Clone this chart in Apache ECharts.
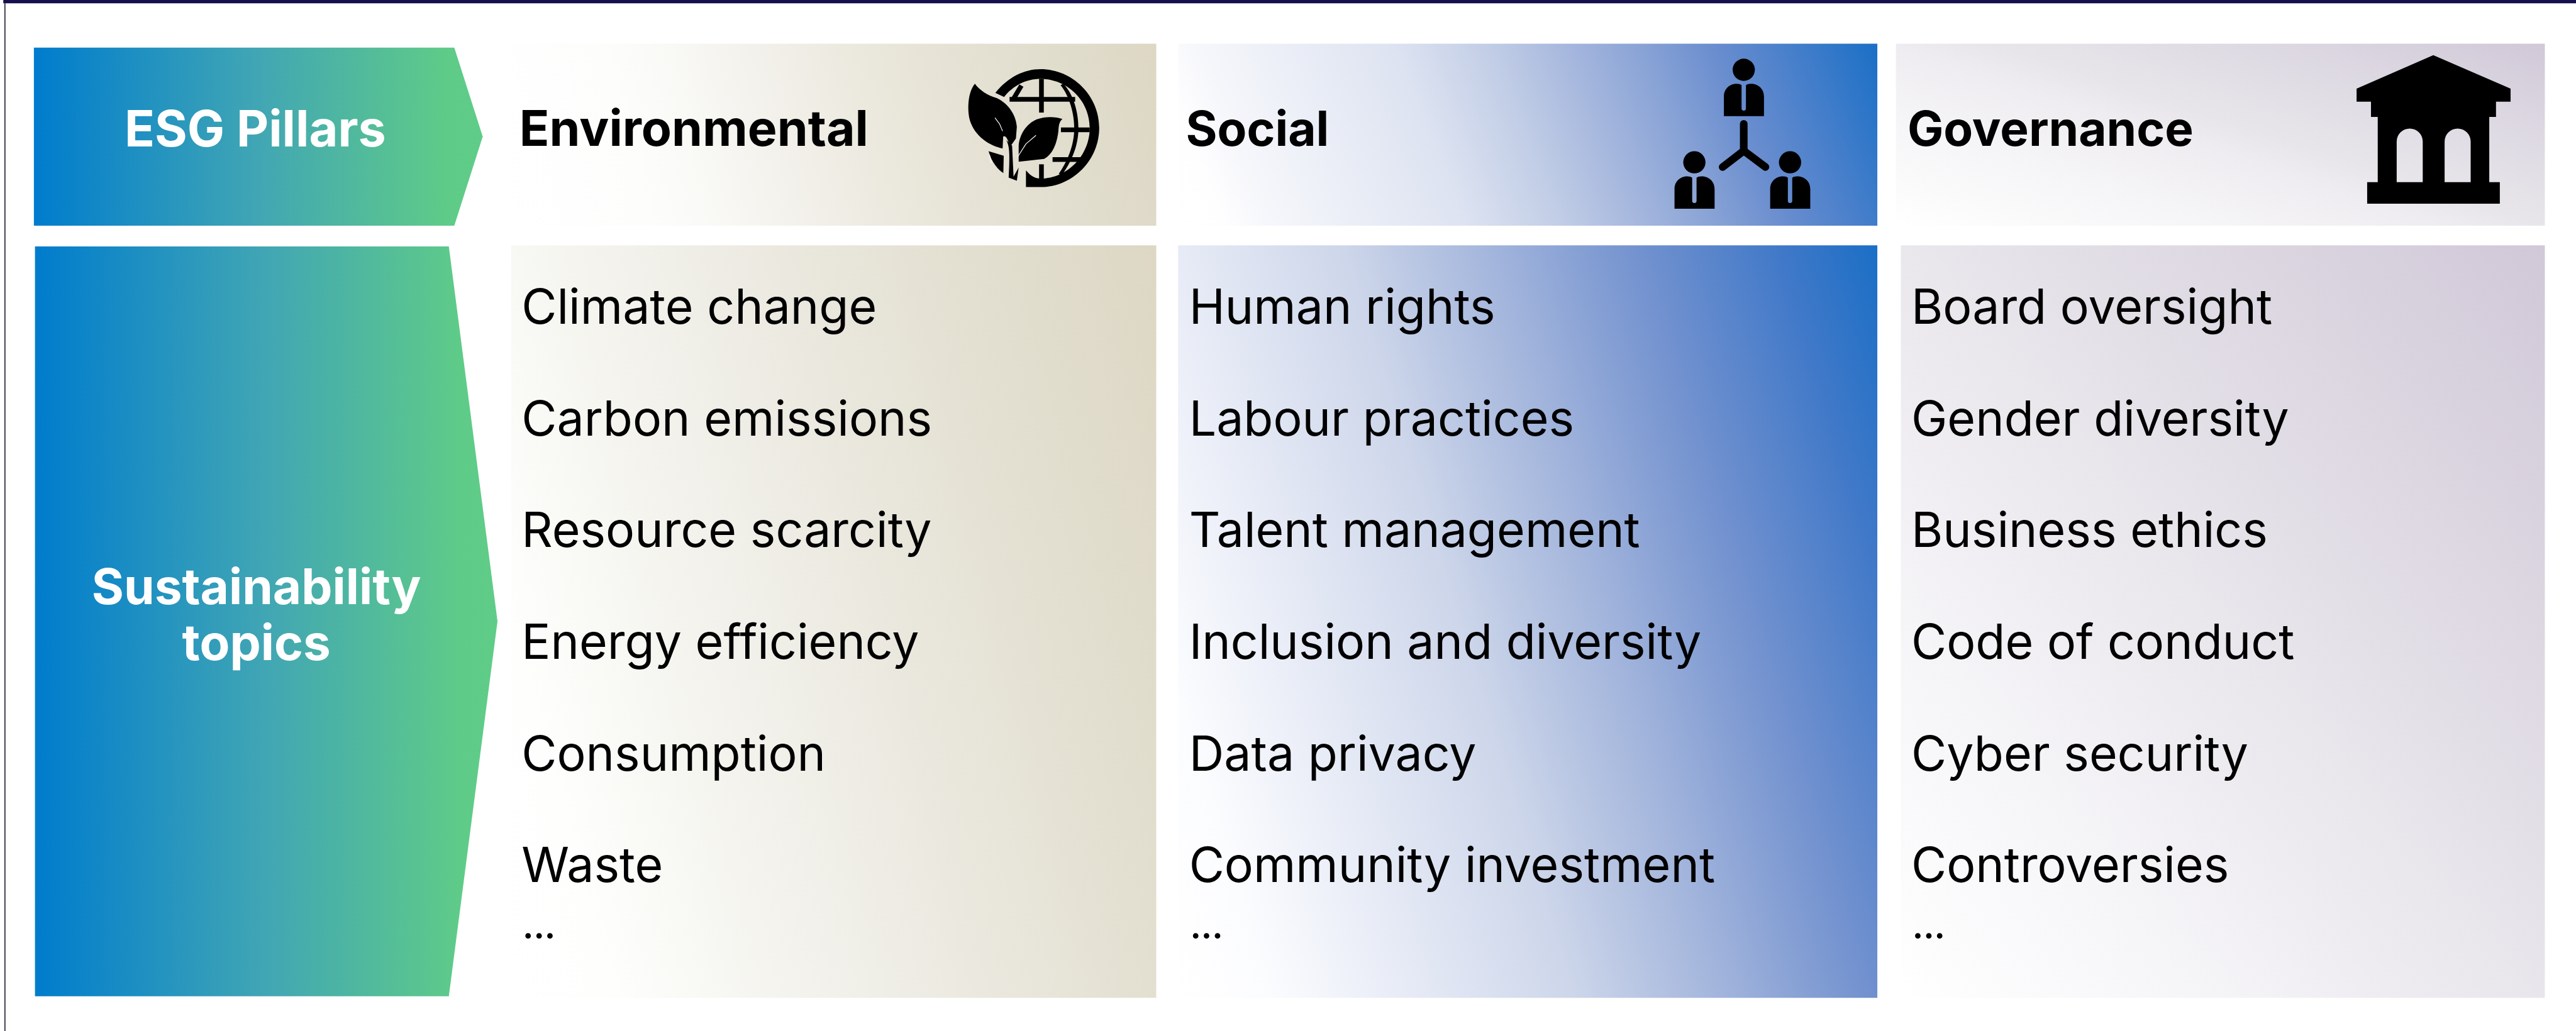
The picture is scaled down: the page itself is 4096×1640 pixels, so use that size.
<!DOCTYPE html>
<html lang="en" style="height: 100%">
<head>
  <meta charset="utf-8">
  <style>body { height: 100%; margin: 0; background: #fff; } #container { width: 100%; height: 100%; }</style>
</head>
<body>
  <div id="container"></div>
  <script src="https://cdn.jsdelivr.net/npm/echarts@6/dist/echarts.min.js"></script>
  <script>
    // diagram content
    var rowTitles = ['ESG Pillars', 'Sustainability\ntopics'];
    var pillars = ['Environmental', 'Social', 'Governance'];
    var environmentalTopics = ['Climate change', 'Carbon emissions', 'Resource scarcity', 'Energy efficiency', 'Consumption', 'Waste'];
    var socialTopics = ['Human rights', 'Labour practices', 'Talent management', 'Inclusion and diversity', 'Data privacy', 'Community investment'];
    var governanceTopics = ['Board oversight', 'Gender diversity', 'Business ethics', 'Code of conduct', 'Cyber security', 'Controversies'];
    var moreMark = '...';

    var S = 4096 / 4712;  // everything below is in reference pixels
    var FONT = 'Inter, "Noto Sans", sans-serif';

    // gradient running at a real angle across a box, white end at bottom left
    function tilted(w, h, deg, stops) {
      var r = deg * Math.PI / 180;
      var L = w * Math.cos(r) + h * Math.sin(r);
      return {
        type: 'linear', x: 0, y: 1,
        x2: L * Math.cos(r) / w,
        y2: 1 - L * Math.sin(r) / h,
        colorStops: stops.map(function (s) { return { offset: s[0], color: s[1] }; })
      };
    }

    var arrowFill = {
      type: 'linear', x: 0, y: 0, x2: 1, y2: 0,
      colorStops: [{ offset: 0, color: '#007ccd' }, { offset: 0.5, color: '#41a6b4' }, { offset: 0.92, color: '#5fcb88' }, { offset: 1, color: '#5fcc88' }]
    };

    var columns = [
      {
        head: { x: 935, w: 1180, textX: 950, size: 90.5, deg: 15 }, body: { x: 935, w: 1180, textX: 954, deg: 15 }, topics: environmentalTopics,
        headStops: [[0, '#ffffff'], [0.2, '#fdfdfc'], [0.294, '#f9f9f6'], [0.45, '#f1efe8'], [0.608, '#e9e6da'], [0.797, '#e2dfd0'], [1, '#ddd7c4']],
        bodyStops: [[0, '#ffffff'], [0.12, '#fefefd'], [0.238, '#f8f8f4'], [0.421, '#f0efe8'], [0.627, '#e8e5da'], [0.782, '#e2dfd0'], [1, '#ddd7c4']]
      },
      {
        head: { x: 2155, w: 1279, textX: 2169, size: 88, deg: 22 }, body: { x: 2155, w: 1279, textX: 2175, deg: 17 }, topics: socialTopics,
        headStops: [[0, '#ffffff'], [0.06, '#fefeff'], [0.119, '#f6f7fb'], [0.372, '#dde3f1'], [0.498, '#c1cde6'], [0.593, '#a7b8de'], [0.688, '#8aa4d6'], [0.783, '#6b8ecf'], [0.877, '#4a80cb'], [1, '#1a6fc6']],
        bodyStops: [[0, '#ffffff'], [0.1, '#fbfcfe'], [0.247, '#e7ebf6'], [0.425, '#cdd6ea'], [0.583, '#a3b5dc'], [0.74, '#7392cf'], [0.898, '#3f78c8'], [1, '#1a6fc6']]
      },
      {
        head: { x: 3468, w: 1187, textX: 3489, size: 88, deg: 72 }, body: { x: 3477, w: 1178, textX: 3496, deg: 39 }, topics: governanceTopics,
        headStops: [[0, '#ffffff'], [0.28, '#f5f4f6'], [0.46, '#eeecf0'], [0.54, '#e8e5ea'], [0.745, '#dedae3'], [1, '#d1c8d8']],
        bodyStops: [[0, '#ffffff'], [0.25, '#f5f4f7'], [0.5, '#e9e6ec'], [0.75, '#dcd7e1'], [1, '#d1c8d8']]
      }
    ];

    var HEAD_Y = 80, HEAD_H = 333, BODY_Y = 449, BODY_H = 1377;
    var ROW_Y = 566, ROW_STEP = 204.3, MORE_Y = 1700;

    function label(text, x, y, size, weight, fill, align) {
      return {
        type: 'text', x: x, y: y, silent: true,
        style: { text: text, fill: fill, fontFamily: FONT, fontSize: size, fontWeight: weight, align: align || 'left', verticalAlign: 'middle', lineHeight: 102 }
      };
    }

    // the graphic component has no plain path element, so each outline gets its own shape
    var shapeCount = 0;
    function pathEl(d, style) {
      var name = 'iconShape' + (shapeCount++);
      echarts.graphic.registerShape(name, echarts.graphic.extendPath(d));
      return { type: name, style: style };
    }

    var BLACK = { fill: '#000' };

    function seg(points, w, colour) {
      return { type: 'polyline', shape: { points: points }, style: { fill: null, stroke: colour || '#000', lineWidth: w, lineCap: 'butt', lineJoin: 'round' } };
    }

    function icon(x, y, children) {
      return { type: 'group', x: x, y: y, scaleX: 1 / 3, scaleY: 1 / 3, silent: true, children: children };
    }

    var personBody = 'M610 428 L610 320 C610 275 645 250 680 250 C693 250 700 253 707 258 L707 385 A12 12 0 0 0 731 385 L731 258 C738 253 745 250 758 250 C795 250 830 275 830 320 L830 428 Z';

    function person(dx, dy) {
      return {
        type: 'group', x: dx, y: dy, children: [
          { type: 'circle', shape: { cx: 719, cy: 173, r: 61 }, style: { fill: '#000' } },
          pathEl(personBody, BLACK)
        ]
      };
    }

    var peopleIcon = icon(2950, 70, [
      person(0, 0), person(-271, 508), person(254, 508),
      { type: 'polyline', shape: { points: [[719, 470], [719, 618]] }, style: { fill: null, stroke: '#000', lineWidth: 42, lineCap: 'round' } },
      { type: 'polyline', shape: { points: [[603, 707], [719, 618], [838, 707]] }, style: { fill: null, stroke: '#000', lineWidth: 42, lineCap: 'round', lineJoin: 'round' } }
    ]);

    var buildingPath = 'M753 93 L1177 277 L1177 348 L1097 348 L1097 432 L1060 432 L1060 790 L1118 790 L1118 908 L390 908 L390 790 L448 790 L448 432 L411 432 L411 348 L332 348 L332 277 Z ' +
      'M552 790 L695 790 L695 567 A71.5 71.5 0 0 0 552 567 Z M815 790 L958 790 L958 567 A71.5 71.5 0 0 0 815 567 Z';
    var buildingIcon = icon(4200, 70, [pathEl(buildingPath, BLACK)]);

    // globe ring is open towards the bottom left, leaves sit over that gap
    var ringPath = 'M512 360 C580 275 670 230 760 230 C935 230 1082 375 1082 552 C1082 730 935 877 760 877 L680 877 L680 785 C705 815 730 830 760 830 C905 830 1030 705 1030 552 C1030 400 905 283 760 283 C680 283 610 320 560 382 Z';
    var leafA = 'M400 310 C425 345 470 375 520 388 C585 420 625 480 630 545 L625 610 L590 660 C585 620 570 590 555 600 L552 665 C480 650 400 600 372 510 C355 440 365 350 400 310 Z';
    var leafB = 'M880 503 C860 520 860 545 858 570 C850 640 825 700 780 722 L640 738 L640 650 C645 590 680 530 740 505 C790 488 840 490 880 503 Z';
    var leafC = 'M475 680 L558 705 L556 800 C530 785 490 740 475 680 Z';
    var stem = 'M572 620 C590 650 590 700 588 760 L585 825 L630 842 L640 770 L612 820 L604 650 L572 620 Z';
    var globeIcon = icon(1650, 50, [
      pathEl(ringPath, BLACK),
      seg([[765, 283], [765, 468]], 26),
      seg([[765, 752], [765, 830]], 26),
      seg([[590, 395], [950, 395]], 26),
      seg([[872, 563], [1030, 563]], 26),
      seg([[826, 726], [1000, 726]], 26),
      pathEl('M870 318 C905 360 945 450 945 555 C945 650 905 740 860 805 L878 810 C925 745 968 655 968 555 C968 445 930 355 885 310 Z', BLACK),
      seg([[655, 320], [612, 392]], 26),
      pathEl(leafA, BLACK),
      pathEl(leafB, BLACK),
      pathEl(leafC, BLACK),
      pathEl(stem, BLACK),
      // white hairlines left in the artwork
      seg([[510, 497], [535, 530], [552, 570]], 4, '#fff'),
      seg([[735, 593], [680, 640], [634, 712]], 4, '#fff'),
      seg([[480, 700], [490, 745]], 4, '#fff')
    ]);

    var children = [];

    // frame edges
    children.push({ type: 'rect', shape: { x: 6, y: 0, width: 4706, height: 6 }, style: { fill: '#160f4d' } });
    children.push({ type: 'rect', shape: { x: 8, y: 6, width: 2, height: 1881 }, style: { fill: '#2a2a3a' } });

    // left hand arrows
    children.push({
      type: 'polygon', shape: { points: [[62, 87], [831, 87], [883, 250], [831, 413], [62, 413]] },
      style: { fill: arrowFill }
    });
    children.push({
      type: 'polygon', shape: { points: [[64, 451], [821, 451], [910, 1137], [821, 1823], [64, 1823]] },
      style: { fill: arrowFill }
    });
    children.push(label(rowTitles[0], 467, 241, 91, 700, '#fff', 'center'));
    children.push(label(rowTitles[1], 469, 1130, 90, 700, '#fff', 'center'));

    columns.forEach(function (col, i) {
      children.push({
        type: 'rect', shape: { x: col.head.x, y: HEAD_Y, width: col.head.w, height: HEAD_H },
        style: { fill: tilted(col.head.w, HEAD_H, col.head.deg, col.headStops) }
      });
      children.push({
        type: 'rect', shape: { x: col.body.x, y: BODY_Y, width: col.body.w, height: BODY_H },
        style: { fill: tilted(col.body.w, BODY_H, col.body.deg, col.bodyStops) }
      });
      children.push(label(pillars[i], col.head.textX, 240, col.head.size, 700, '#000'));
      col.topics.forEach(function (t, r) {
        children.push(label(t, col.body.textX, ROW_Y + r * ROW_STEP, 88.5, 400, '#000'));
      });
      children.push(label(moreMark, col.body.textX + 2, MORE_Y, 60, 700, '#000'));
    });

    children.push(globeIcon, peopleIcon, buildingIcon);

    var myChart = echarts.init(document.getElementById('container'), null, { renderer: 'canvas' });
    myChart.setOption({
      animation: false,
      backgroundColor: '#ffffff',
      graphic: { elements: [{ type: 'group', x: 0, y: 0, scaleX: S, scaleY: S, children: children }] }
    });
    window.addEventListener('resize', myChart.resize);
  </script>
</body>
</html>
